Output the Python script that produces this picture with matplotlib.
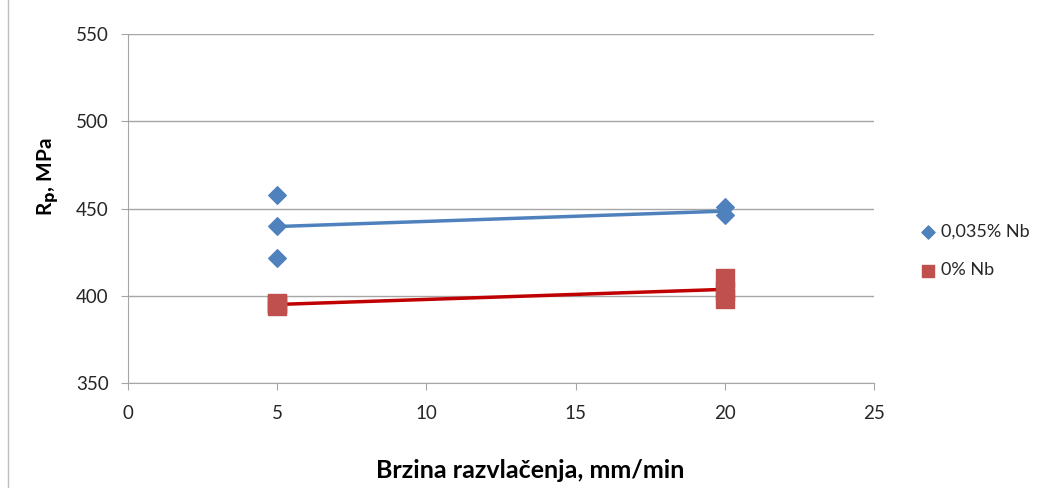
import matplotlib
matplotlib.use("Agg")
import matplotlib.pyplot as plt
import numpy as np
from matplotlib.patches import Rectangle

plt.rcParams['font.family'] = ['Lato', 'DejaVu Sans']

nb_x = [5, 5, 5, 20, 20]
nb_y = [457.5, 440, 421.5, 451, 446]
zero_x = [5, 5, 5, 20, 20, 20]
zero_y = [394, 395, 396, 410, 403, 398]

x_ticks = [0, 5, 10, 15, 20, 25]
y_ticks = [350, 400, 450, 500, 550]

fig = plt.figure(figsize=(10.48, 4.88), dpi=100)
ax = fig.add_axes([128/1048, 1-383/488, (874-128)/1048, (383-34)/488])

ax.set_xlim(0, 25)
ax.set_ylim(350, 550)
ax.set_xticks(x_ticks)
ax.set_yticks(y_ticks)
ax.yaxis.grid(True, color='#A6A6A6', lw=1)
ax.set_axisbelow(True)
for s in ['top', 'right']:
    ax.spines[s].set_visible(False)
for s in ['left', 'bottom']:
    ax.spines[s].set_color('#A6A6A6')
ax.tick_params(axis='both', colors='#A6A6A6', length=5, labelsize=13.5, labelcolor='#262626')
ax.tick_params(axis='y', pad=9)
ax.tick_params(axis='x', pad=11)

# trend lines
for xs, ys, col in [(nb_x, nb_y, '#4F81BD'), (zero_x, zero_y, '#C00000')]:
    p = np.polyfit(xs, ys, 1)
    xx = np.array([5, 20])
    ax.plot(xx, np.polyval(p, xx), color=col, lw=2.5, zorder=2)

ax.scatter(nb_x, nb_y, marker='D', s=80, color='#4F81BD', zorder=3, label='0,035% Nb')
ax.scatter(zero_x, zero_y, marker='s', s=150, color='#C0504D', zorder=3, label='0% Nb')

leg = fig.legend(loc='center left', bbox_to_anchor=(903/1048, 1-251/488), frameon=False,
                 fontsize=13, handletextpad=-0.3, labelspacing=1.25, markerscale=0.75,
                 borderaxespad=0)
for t in leg.get_texts():
    t.set_color('#262626')

ax.set_xlabel('Brzina razvlačenja, mm/min', fontsize=18, fontweight='bold')
ax.xaxis.set_label_coords((530-128)/746, (383-459)/349)
ax.xaxis.label.set_va('top')
ax.set_ylabel(r'R$_\mathbf{p}$, MPa', fontsize=15, fontweight='bold')
ax.yaxis.set_label_coords((61-128)/746, (383-177)/349)

fig.patches.append(Rectangle((8/1048, -0.1), 1.1, 1.2, transform=fig.transFigure,
                             fill=False, edgecolor='#BFBFBF', lw=1))

fig.savefig('out.png', dpi=100)
